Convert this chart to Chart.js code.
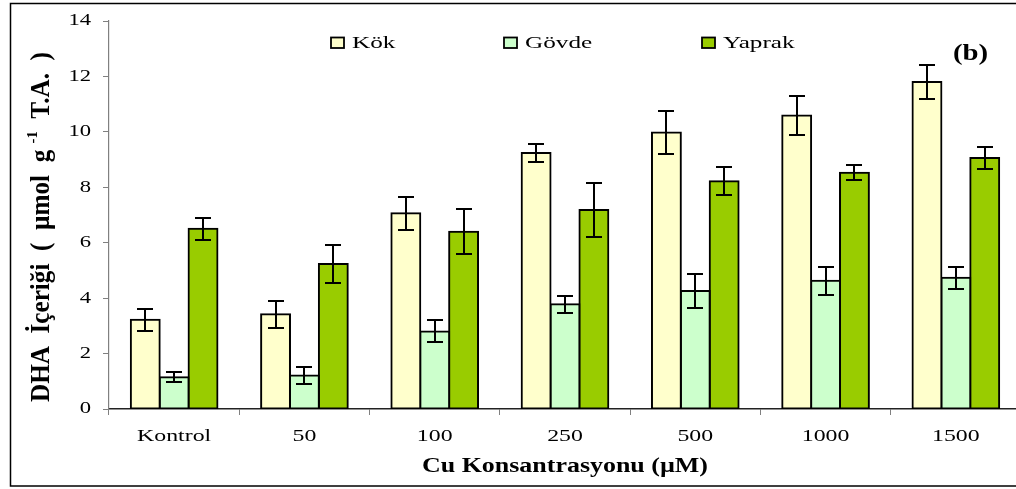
<!DOCTYPE html>
<html>
<head>
<meta charset="utf-8">
<script src="https://cdn.jsdelivr.net/npm/chart.js@4.4.0/dist/chart.umd.min.js"></script>
<style>
  html, body { margin: 0; padding: 0; background: #fff; overflow: hidden; }
  #wrap { position: relative; width: 1016px; height: 489px; overflow: hidden; background: #fff; }
  #c { position: absolute; left: 0; top: 0; }
</style>
</head>
<body>
<div id="wrap"><canvas id="c" width="1021" height="489"></canvas></div>
<script>
// Cu concentration groups (µM)
const categories = ['Kontrol', '50', '100', '250', '500', '1000', '1500'];

// DHA content, µmol g-1 T.A.
const kok       = [3.22, 3.42, 7.06, 9.24, 9.98, 10.59, 11.80];
const kokErr    = [0.40, 0.48, 0.60, 0.31, 0.79, 0.70, 0.62];
const govde     = [1.15, 1.21, 2.80, 3.78, 4.26, 4.63, 4.74];
const govdeErr  = [0.19, 0.31, 0.40, 0.31, 0.62, 0.50, 0.40];
const yaprak    = [6.50, 5.23, 6.40, 7.18, 8.22, 8.52, 9.06];
const yaprakErr = [0.40, 0.70, 0.80, 0.98, 0.50, 0.27, 0.40];

const seriesNames = ['Kök', 'Gövde', 'Yaprak'];
const yTicks = [0, 2, 4, 6, 8, 10, 12, 14];

const SERIF = '"Liberation Serif", "Times New Roman", serif';
const colors = ['#FFFFCC', '#CCFFCC', '#99CC00'];
const errors = [kokErr, govdeErr, yaprakErr];

// Text drawn with a horizontal stretch (wide serif look)
function wideText(ctx, text, x, y, sx, align) {
  ctx.save();
  ctx.translate(x, y);
  ctx.scale(sx, 1);
  ctx.textAlign = align;
  ctx.fillText(text, 0, 0);
  ctx.restore();
}

// Error bars on top of every bar
const errorBars = {
  id: 'errorBars',
  afterDatasetsDraw(chart) {
    const ctx = chart.ctx;
    const y = chart.scales.y;
    ctx.save();
    ctx.strokeStyle = '#000';
    ctx.lineWidth = 2;
    chart.data.datasets.forEach((ds, i) => {
      const meta = chart.getDatasetMeta(i);
      meta.data.forEach((bar, j) => {
        const v = ds.data[j], e = errors[i][j];
        const yt = Math.round(y.getPixelForValue(v + e));
        const yb = Math.round(y.getPixelForValue(v - e));
        const x = Math.round(bar.x);
        ctx.beginPath();
        ctx.moveTo(x, yt); ctx.lineTo(x, yb);
        ctx.moveTo(x - 8, yt); ctx.lineTo(x + 8, yt);
        ctx.moveTo(x - 8, yb); ctx.lineTo(x + 8, yb);
        ctx.stroke();
      });
    });
    ctx.restore();
  }
};

// Tick labels, axis titles, legend, panel letter and frame
const decorations = {
  id: 'decorations',
  afterDraw(chart) {
    const ctx = chart.ctx;
    const xs = chart.scales.x, ys = chart.scales.y;
    const area = chart.chartArea;
    ctx.save();
    ctx.fillStyle = '#000';
    ctx.textBaseline = 'middle';

    // y tick labels
    ctx.font = '17px ' + SERIF;
    yTicks.forEach(v => {
      wideText(ctx, String(v), area.left - 18, ys.getPixelForValue(v), 1.33, 'right');
    });

    // category labels
    ctx.font = '17.5px ' + SERIF;
    categories.forEach((c, i) => {
      wideText(ctx, c, xs.getPixelForValue(i), area.bottom + 27, 1.36, 'center');
    });

    // x axis title
    ctx.font = 'bold 20px ' + SERIF;
    const xt = 'Cu Konsantrasyonu (µM)';
    const xsx = 286 / ctx.measureText(xt).width;
    wideText(ctx, xt, (area.left + area.right) / 2, area.bottom + 58, xsx, 'center');

    // y axis title with superscript
    ctx.save();
    ctx.translate(40, 227);
    ctx.rotate(-Math.PI / 2);
    const mainT = 'DHA  İçeriği  (  µmol  g ';
    const supT = '-1';
    const restT = '  T.A.  )';
    ctx.font = 'bold 24px ' + SERIF;
    const wMain = ctx.measureText(mainT).width;
    const wRest = ctx.measureText(restT).width;
    ctx.font = 'bold 14px ' + SERIF;
    const wSup = ctx.measureText(supT).width;
    const total = wMain + wSup + wRest;
    const along = 350 / total;
    ctx.scale(along, 1.1);
    let x0 = -total / 2;
    ctx.textAlign = 'left';
    ctx.textBaseline = 'alphabetic';
    ctx.font = 'bold 24px ' + SERIF;
    ctx.fillText(mainT, x0, 8);
    ctx.font = 'bold 14px ' + SERIF;
    ctx.fillText(supT, x0 + wMain, -3);
    ctx.font = 'bold 24px ' + SERIF;
    ctx.fillText(restT, x0 + wMain + wSup, 8);
    ctx.restore();

    // legend
    const legendX = [331, 504, 702];
    ctx.font = '17.5px ' + SERIF;
    ctx.textBaseline = 'middle';
    chart.data.datasets.forEach((ds, i) => {
      const bx = legendX[i];
      ctx.fillStyle = ds.backgroundColor;
      ctx.fillRect(bx, 37.5, 13, 10.5);
      ctx.strokeStyle = '#000';
      ctx.lineWidth = 1.8;
      ctx.strokeRect(bx, 37.5, 13, 10.5);
      ctx.fillStyle = '#000';
      wideText(ctx, ds.label, bx + 21, 43, 1.44, 'left');
    });

    // panel letter
    ctx.font = 'bold 24px ' + SERIF;
    wideText(ctx, '(b)', 970.5, 54, 1.2, 'center');

    // outer frame
    ctx.strokeStyle = '#000';
    ctx.lineWidth = 1.5;
    ctx.strokeRect(10.5, 3.5, chart.width + 20, 482.5);
    ctx.restore();
  }
};

new Chart(document.getElementById('c'), {
  type: 'bar',
  data: {
    labels: categories,
    datasets: [kok, govde, yaprak].map((d, i) => ({
      label: seriesNames[i],
      data: d,
      backgroundColor: colors[i],
      borderColor: '#000',
      borderWidth: 2,
      borderSkipped: false,
      inflateAmount: 1,
      categoryPercentage: 0.665,
      barPercentage: 1.0
    }))
  },
  options: {
    responsive: false,
    animation: false,
    devicePixelRatio: 1,
    layout: { padding: { left: 9, top: 21, right: 0, bottom: 0 } },
    plugins: { legend: { display: false }, tooltip: { enabled: false } },
    scales: {
      x: {
        grid: { offset: true, drawOnChartArea: false, tickLength: 6, color: '#808080', lineWidth: 1 },
        border: { color: '#222', width: 1.5 },
        ticks: { display: false },
        afterFit(s) { s.height = 80; }
      },
      y: {
        min: 0, max: 14,
        ticks: { display: false, stepSize: 2 },
        grid: { drawOnChartArea: false, tickLength: 6, color: '#808080', lineWidth: 1 },
        border: { color: '#808080', width: 1.2 },
        afterFit(s) { s.width = 100; }
      }
    }
  },
  plugins: [errorBars, decorations]
});
</script>
</body>
</html>
